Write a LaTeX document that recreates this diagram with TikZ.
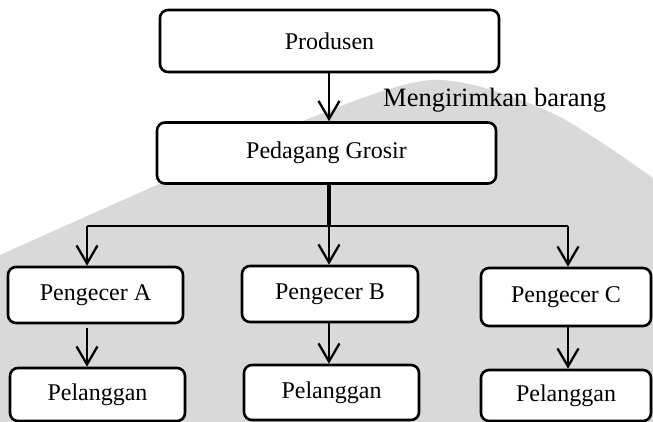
\documentclass[tikz,border=0pt]{standalone}
\usepackage{fontspec}
\setmainfont{Liberation Serif}
\usetikzlibrary{arrows.meta}
\begin{document}
\begin{tikzpicture}[x=1pt,y=-1pt,
  box/.style={draw=black, line width=2.6pt, rounded corners=8pt, fill=white,
    inner sep=0pt, font=\fontsize{24}{28}\selectfont},
  conn/.style={line width=2.3pt,
    -{Straight Barb[length=18pt,width=21pt]}},
  plainline/.style={line width=2.5pt},
  trunkline/.style={line width=4.2pt},
  lbl/.style={font=\fontsize{26.5}{30}\selectfont, inner sep=0pt},
  wm/.style={fill=black!15}
]
\useasboundingbox (0,0) rectangle (653,422);
% watermark backdrop
\fill[wm] plot[smooth] coordinates {(0,255) (150,188) (300,122) (433,80) (550,112) (653,178)}
  -- (653,422) -- (0,422) -- cycle;

% nodes
\node[box, minimum width=339pt, minimum height=62pt] (prod) at (329.5,41) {Produsen};
\node[box, minimum width=339pt, minimum height=61pt] (groc) at (326.5,153) {Pedagang Grosir};
\node[box, minimum width=175pt, minimum height=56pt] (pA) at (95.5,295) {Pengecer A};
\node[box, minimum width=176pt, minimum height=56pt] (pB) at (330,294) {Pengecer B};
\node[box, minimum width=170pt, minimum height=58pt] (pC) at (566,297) {Pengecer C};
\node[box, minimum width=175pt, minimum height=53pt] (lA) at (97.5,394.5) {Pelanggan};
\node[box, minimum width=175pt, minimum height=55pt] (lB) at (331.5,392.5) {Pelanggan};
\node[box, minimum width=170pt, minimum height=51pt] (lC) at (566,395.5) {Pelanggan};
\node[lbl, anchor=base west] (msg) at (383,107) {Mengirimkan barang};

% helper coordinates
\coordinate (xa) at (87,0);
\coordinate (xb) at (329,0);
\coordinate (xc) at (568,0);
\coordinate (j) at (329,226);

% connectors
\draw[conn] (prod.south -| xb) -- (groc.north -| xb);
\draw[trunkline] (groc.south -| xb) -- (j);
\draw[plainline] (j -| xa) -- (j -| xc);
\draw[conn] (j -| xa) -- (pA.north -| xa);
\draw[conn] (j) -- (pB.north -| xb);
\draw[conn] (j -| xc) -- (pC.north -| xc);
\draw[conn, shorten <=4pt] (pA.south -| xa) -- (lA.north -| xa);
\draw[conn] (pB.south -| xb) -- (lB.north -| xb);
\draw[conn] (pC.south -| xc) -- (lC.north -| xc);
\end{tikzpicture}
\end{document}
